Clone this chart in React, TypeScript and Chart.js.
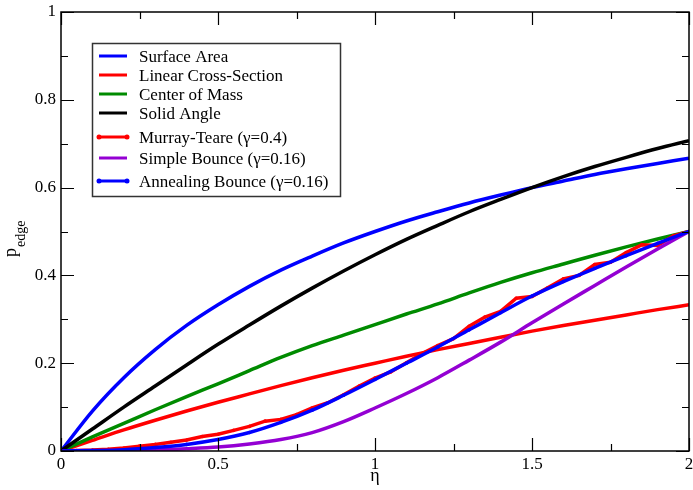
import React, { useEffect, useRef } from "react";
import { Chart, registerables } from "chart.js";

Chart.register(...registerables);

// ---- Data ----
const etaCurve = [0, 0.1, 0.2, 0.3, 0.4, 0.5, 0.6, 0.7, 0.8, 0.9, 1.0, 1.1, 1.2, 1.3, 1.4, 1.5, 1.6, 1.7, 1.8, 1.9, 2.0];
const surfaceArea = [0, 0.091, 0.167, 0.231, 0.286, 0.333, 0.375, 0.412, 0.444, 0.474, 0.5, 0.524, 0.545, 0.565, 0.583, 0.6, 0.615, 0.63, 0.643, 0.655, 0.667];
const linearCrossSection = [0, 0.024, 0.048, 0.07, 0.091, 0.111, 0.13, 0.149, 0.167, 0.184, 0.2, 0.216, 0.231, 0.245, 0.259, 0.273, 0.286, 0.298, 0.31, 0.322, 0.333];
const centerOfMass = [0, 0.032, 0.063, 0.094, 0.124, 0.153, 0.183, 0.213, 0.24, 0.264, 0.288, 0.312, 0.335, 0.36, 0.384, 0.406, 0.426, 0.446, 0.465, 0.483, 0.5];
const solidAngle = [0, 0.05, 0.1, 0.148, 0.196, 0.243, 0.287, 0.33, 0.371, 0.41, 0.447, 0.482, 0.514, 0.545, 0.573, 0.6, 0.625, 0.648, 0.669, 0.689, 0.707];
const simpleBounce = [0, 0, 0.001, 0.002, 0.005, 0.009, 0.016, 0.026, 0.042, 0.067, 0.098, 0.131, 0.167, 0.207, 0.248, 0.292, 0.335, 0.377, 0.419, 0.46, 0.5];
const annealingBounce = [0, 0.001, 0.003, 0.008, 0.015, 0.026, 0.042, 0.065, 0.093, 0.127, 0.163, 0.2, 0.237, 0.276, 0.315, 0.353, 0.386, 0.416, 0.445, 0.473, 0.5];

const etaMT = [0, 0.05, 0.1, 0.15, 0.2, 0.25, 0.3, 0.35, 0.4, 0.45, 0.5, 0.55, 0.6, 0.65, 0.7, 0.75, 0.8, 0.85, 0.9, 0.95, 1.0, 1.05, 1.1, 1.15, 1.2, 1.25, 1.3, 1.35, 1.4, 1.45, 1.5, 1.55, 1.6, 1.65, 1.7, 1.75, 1.8, 1.85, 1.9, 1.95, 2.0];
const murrayTeare = [0, 0.001, 0.002, 0.004, 0.007, 0.011, 0.015, 0.02, 0.025, 0.033, 0.038, 0.047, 0.056, 0.068, 0.072, 0.083, 0.098, 0.11, 0.128, 0.148, 0.166, 0.18, 0.201, 0.222, 0.24, 0.256, 0.284, 0.305, 0.318, 0.348, 0.352, 0.372, 0.392, 0.4, 0.425, 0.43, 0.452, 0.47, 0.468, 0.49, 0.5];

const seriesLabels = [
  "Surface Area",
  "Linear Cross-Section",
  "Center of Mass",
  "Solid Angle",
  "Murray-Teare (γ=0.4)",
  "Simple Bounce (γ=0.16)",
  "Annealing Bounce (γ=0.16)",
];
const seriesColors = ["#0000ff", "#ff0000", "#008b00", "#000000", "#ff0000", "#9400d3", "#0000ff"];
const seriesHasMarkers = [false, false, false, false, true, false, true];

const xMajorTicks = [0, 0.5, 1, 1.5, 2];
const xMinorTicks = [0.25, 0.75, 1.25, 1.75];
const yMajorTicks = [0, 0.2, 0.4, 0.6, 0.8, 1];
const yMinorTicks = [0.1, 0.3, 0.5, 0.7, 0.9];

const xTitle = "η";
const yTitleMain = "p";
const yTitleSub = "edge";

const FONT = "'Liberation Serif', 'Times New Roman', serif";

function pts(xs: number[], ys: number[]) {
  return xs.map((x, i) => ({ x, y: ys[i] }));
}

function fmt(v: number) {
  return String(Number(Number(v).toFixed(3)));
}

const decorPlugin = {
  id: "decor",
  afterDraw(chart: any) {
    const ctx = chart.ctx as CanvasRenderingContext2D;
    const area = chart.chartArea;
    const xs = chart.scales.x;
    const ys = chart.scales.y;
    ctx.save();
    // frame
    ctx.strokeStyle = "#000";
    ctx.lineWidth = 1.5;
    ctx.strokeRect(area.left, area.top, area.right - area.left, area.bottom - area.top);
    // ticks (inward, mirrored)
    ctx.lineWidth = 1.2;
    ctx.beginPath();
    const xt = (vals: number[], len: number) => {
      vals.forEach((v) => {
        const px = Math.round(xs.getPixelForValue(v)) + 0.5;
        ctx.moveTo(px, area.bottom);
        ctx.lineTo(px, area.bottom - len);
        ctx.moveTo(px, area.top);
        ctx.lineTo(px, area.top + len);
      });
    };
    const yt = (vals: number[], len: number) => {
      vals.forEach((v) => {
        const py = Math.round(ys.getPixelForValue(v)) + 0.5;
        ctx.moveTo(area.left, py);
        ctx.lineTo(area.left + len, py);
        ctx.moveTo(area.right, py);
        ctx.lineTo(area.right - len, py);
      });
    };
    xt(xMajorTicks, 13);
    xt(xMinorTicks, 7);
    yt(yMajorTicks, 13);
    yt(yMinorTicks, 7);
    ctx.stroke();

    // x title
    ctx.fillStyle = "#000";
    ctx.font = `18px ${FONT}`;
    ctx.textAlign = "center";
    ctx.textBaseline = "alphabetic";
    ctx.fillText(xTitle, (area.left + area.right) / 2, 481);

    // y title (rotated, with subscript)
    ctx.save();
    ctx.translate(0, 257);
    ctx.rotate(-Math.PI / 2);
    ctx.textAlign = "left";
    ctx.font = `18px ${FONT}`;
    ctx.fillText(yTitleMain, 0, 16);
    const pw = ctx.measureText(yTitleMain).width;
    ctx.font = `14px ${FONT}`;
    ctx.fillText(yTitleSub, pw + 1, 25);
    ctx.restore();

    // legend
    const bx = 92, by = 43, bw = 248, bh = 153;
    ctx.fillStyle = "#fff";
    ctx.fillRect(bx, by, bw, bh);
    ctx.strokeStyle = "#333";
    ctx.lineWidth = 1.5;
    ctx.strokeRect(bx + 0.5, by + 0.5, bw, bh);
    const rowY = [56, 75, 94, 113, 137, 158, 181];
    ctx.font = `17px ${FONT}`;
    ctx.textAlign = "left";
    ctx.textBaseline = "alphabetic";
    chart.data.datasets.forEach((ds: any, i: number) => {
      const y = rowY[i];
      ctx.strokeStyle = ds.borderColor;
      ctx.lineWidth = 3;
      ctx.beginPath();
      ctx.moveTo(99, y);
      ctx.lineTo(127, y);
      ctx.stroke();
      if (seriesHasMarkers[i]) {
        ctx.fillStyle = ds.borderColor;
        [99, 127].forEach((mx) => {
          ctx.beginPath();
          ctx.arc(mx, y, 2.5, 0, Math.PI * 2);
          ctx.fill();
        });
      }
      ctx.fillStyle = "#000";
      ctx.fillText(ds.label, 139, y + 6);
    });
    ctx.restore();
  },
};

export default function App() {
  const canvasRef = useRef<HTMLCanvasElement | null>(null);

  useEffect(() => {
    if (!canvasRef.current) return;
    const seriesData = [
      pts(etaCurve, surfaceArea),
      pts(etaCurve, linearCrossSection),
      pts(etaCurve, centerOfMass),
      pts(etaCurve, solidAngle),
      pts(etaMT, murrayTeare),
      pts(etaCurve, simpleBounce),
      pts(etaCurve, annealingBounce),
    ];
    const n = seriesLabels.length;
    const datasets = seriesLabels.map((label, i) => ({
      label,
      data: seriesData[i],
      borderColor: seriesColors[i],
      backgroundColor: seriesColors[i],
      borderWidth: 3.5,
      pointRadius: seriesHasMarkers[i] ? 1.8 : 0,
      pointBorderWidth: 0,
      pointBackgroundColor: seriesColors[i],
      tension: i === 4 ? 0 : 0.4,
      cubicInterpolationMode: i === 4 ? "default" : "monotone",
      fill: false,
      order: n - i,
    }));

    const chart = new Chart(canvasRef.current, {
      type: "line",
      data: { datasets },
      options: {
        responsive: false,
        animation: false,
        maintainAspectRatio: false,
        layout: { padding: { left: 0, top: 12, right: 3, bottom: 0 } },
        plugins: { legend: { display: false }, tooltip: { enabled: false } },
        scales: {
          x: {
            type: "linear",
            min: 0,
            max: 2,
            grid: { display: false, drawTicks: false },
            border: { display: false },
            ticks: {
              stepSize: 0.5,
              color: "#000",
              padding: 3,
              maxRotation: 0,
              font: { family: FONT, size: 17 },
              callback: (v: any) => fmt(v),
            },
            afterFit(scale: any) {
              scale.height = 39;
              scale.paddingLeft = 0;
              scale.paddingRight = 0;
            },
          },
          y: {
            type: "linear",
            min: 0,
            max: 1,
            grid: { display: false, drawTicks: false },
            border: { display: false },
            ticks: {
              stepSize: 0.2,
              color: "#000",
              padding: 5,
              font: { family: FONT, size: 17 },
              callback: (v: any) => fmt(v),
            },
            afterFit(scale: any) {
              scale.width = 61;
              scale.paddingTop = 0;
              scale.paddingBottom = 0;
            },
          },
        },
      } as any,
      plugins: [decorPlugin],
    });
    return () => chart.destroy();
  }, []);

  return (
    <div style={{ position: "fixed", left: 0, top: 0, width: 693, height: 490, background: "#fff" }}>
      <canvas ref={canvasRef} width={693} height={490} style={{ width: 693, height: 490, display: "block" }} />
    </div>
  );
}
